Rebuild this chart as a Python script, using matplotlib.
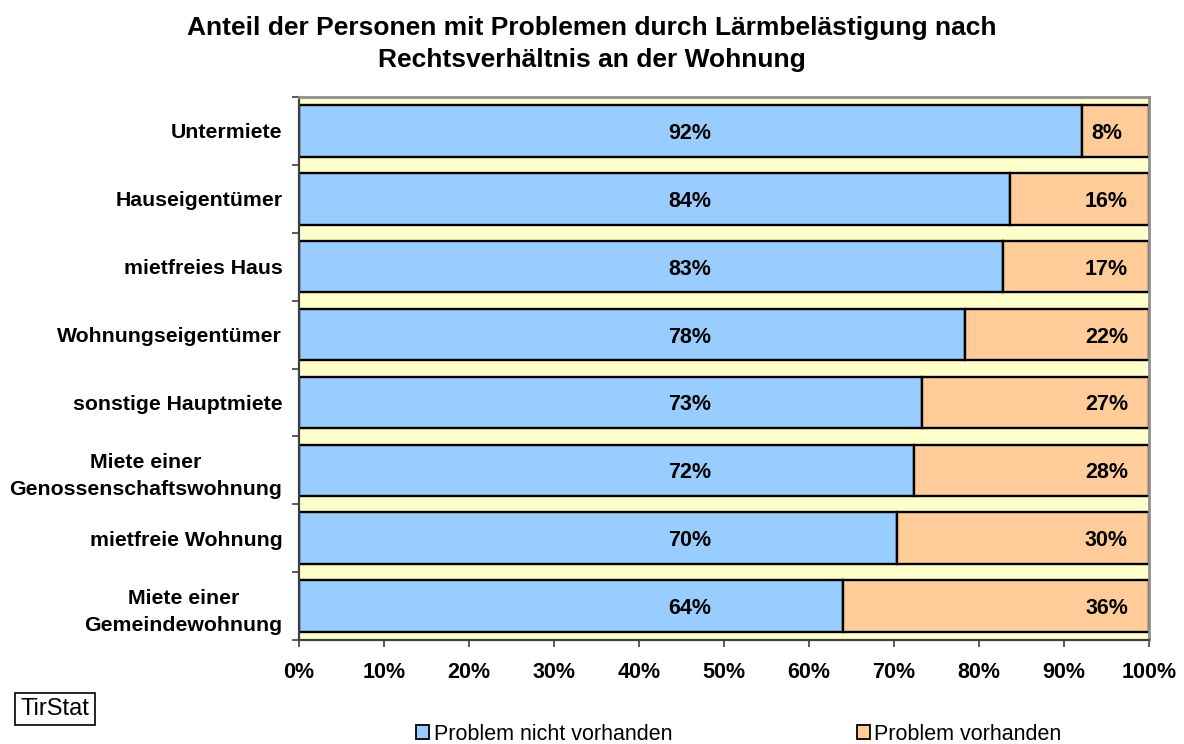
import matplotlib
matplotlib.use("Agg")
import matplotlib.pyplot as plt
from matplotlib.patches import Patch

plt.rcParams['font.family'] = ['Liberation Sans', 'DejaVu Sans']

categories = [
    "Untermiete",
    "Hauseigentümer",
    "mietfreies Haus",
    "Wohnungseigentümer",
    "sonstige Hauptmiete",
    "Miete einer\nGenossenschaftswohnung",
    "mietfreie Wohnung",
    "Miete einer\nGemeindewohnung",
]
kein_problem = [92.1, 83.6, 82.8, 78.4, 73.3, 72.4, 70.3, 64.0]
problem = [7.9, 16.4, 17.2, 21.6, 26.7, 27.6, 29.7, 36.0]
series_names = ["Problem nicht vorhanden", "Problem vorhanden"]
x_ticks = list(range(0, 101, 10))
title = "Anteil der Personen mit Problemen durch Lärmbelästigung nach\nRechtsverhältnis an der Wohnung"
source = "TirStat"

blue = "#99CCFF"
orange = "#FFCC99"
plot_bg = "#FFFFCC"

fig = plt.figure(figsize=(11.84, 7.44), dpi=100)
ax = fig.add_axes([299 / 1184, 1 - 640 / 744, 850 / 1184, 543 / 744])
ax.set_facecolor(plot_bg)

ypos = list(range(len(categories)))
ax.barh(ypos, kein_problem, height=0.76, color=blue, edgecolor="black", linewidth=1.7, zorder=2)
ax.barh(ypos, problem, left=kein_problem, height=0.76, color=orange, edgecolor="black", linewidth=1.7, zorder=2)

label_kw = dict(fontsize=15.5, fontweight="bold", va="center_baseline", zorder=3)
for y, a, b in zip(ypos, kein_problem, problem):
    ax.text(46, y, f"{a:.0f}%", ha="center", **label_kw)
    ax.text(95, y, f"{b:.0f}%", ha="center", **label_kw)

ax.set_xlim(0, 100)
ax.set_ylim(len(categories) - 0.5, -0.5)
ax.set_xticks(x_ticks)
ax.set_xticklabels([f"{t}%" for t in x_ticks], fontsize=15.5, fontweight="bold")
ax.set_yticks(ypos)
ax.set_yticklabels(categories, fontsize=15.3, fontweight="bold", multialignment="center", linespacing=1.5)
ax.set_yticks([i - 0.5 for i in range(len(categories) + 1)], minor=True)
ax.tick_params(axis="y", which="major", length=0, pad=12)
ax.tick_params(axis="y", which="minor", length=5, width=1.2, color="#404040")
ax.tick_params(axis="x", which="major", length=5, width=1.2, color="#404040", pad=11)

for side in ("top", "right"):
    ax.spines[side].set_color("#909090")
    ax.spines[side].set_linewidth(2)
for side in ("left", "bottom"):
    ax.spines[side].set_color("#404040")
    ax.spines[side].set_linewidth(1.6)

fig.text(0.5, 1 - 44 / 744, title, ha="center", va="center", fontsize=19,
         fontweight="bold", linespacing=1.45)

fig.text(55 / 1184, 1 - 709 / 744, source, ha="center", va="center", fontsize=17,
         bbox=dict(boxstyle="square,pad=0.22", facecolor="white", edgecolor="black", linewidth=1.2))

handles = [Patch(facecolor=blue, edgecolor="black", linewidth=1.3),
           Patch(facecolor=orange, edgecolor="black", linewidth=1.3)]
fig.legend(handles, series_names, loc="center", bbox_to_anchor=(739 / 1184, 1 - 734 / 744),
           ncol=2, frameon=False, fontsize=15.5, handlelength=0.6, handleheight=0.6,
           handletextpad=0.2, columnspacing=8.6, borderpad=0)

fig.savefig("out.png", dpi=100)
